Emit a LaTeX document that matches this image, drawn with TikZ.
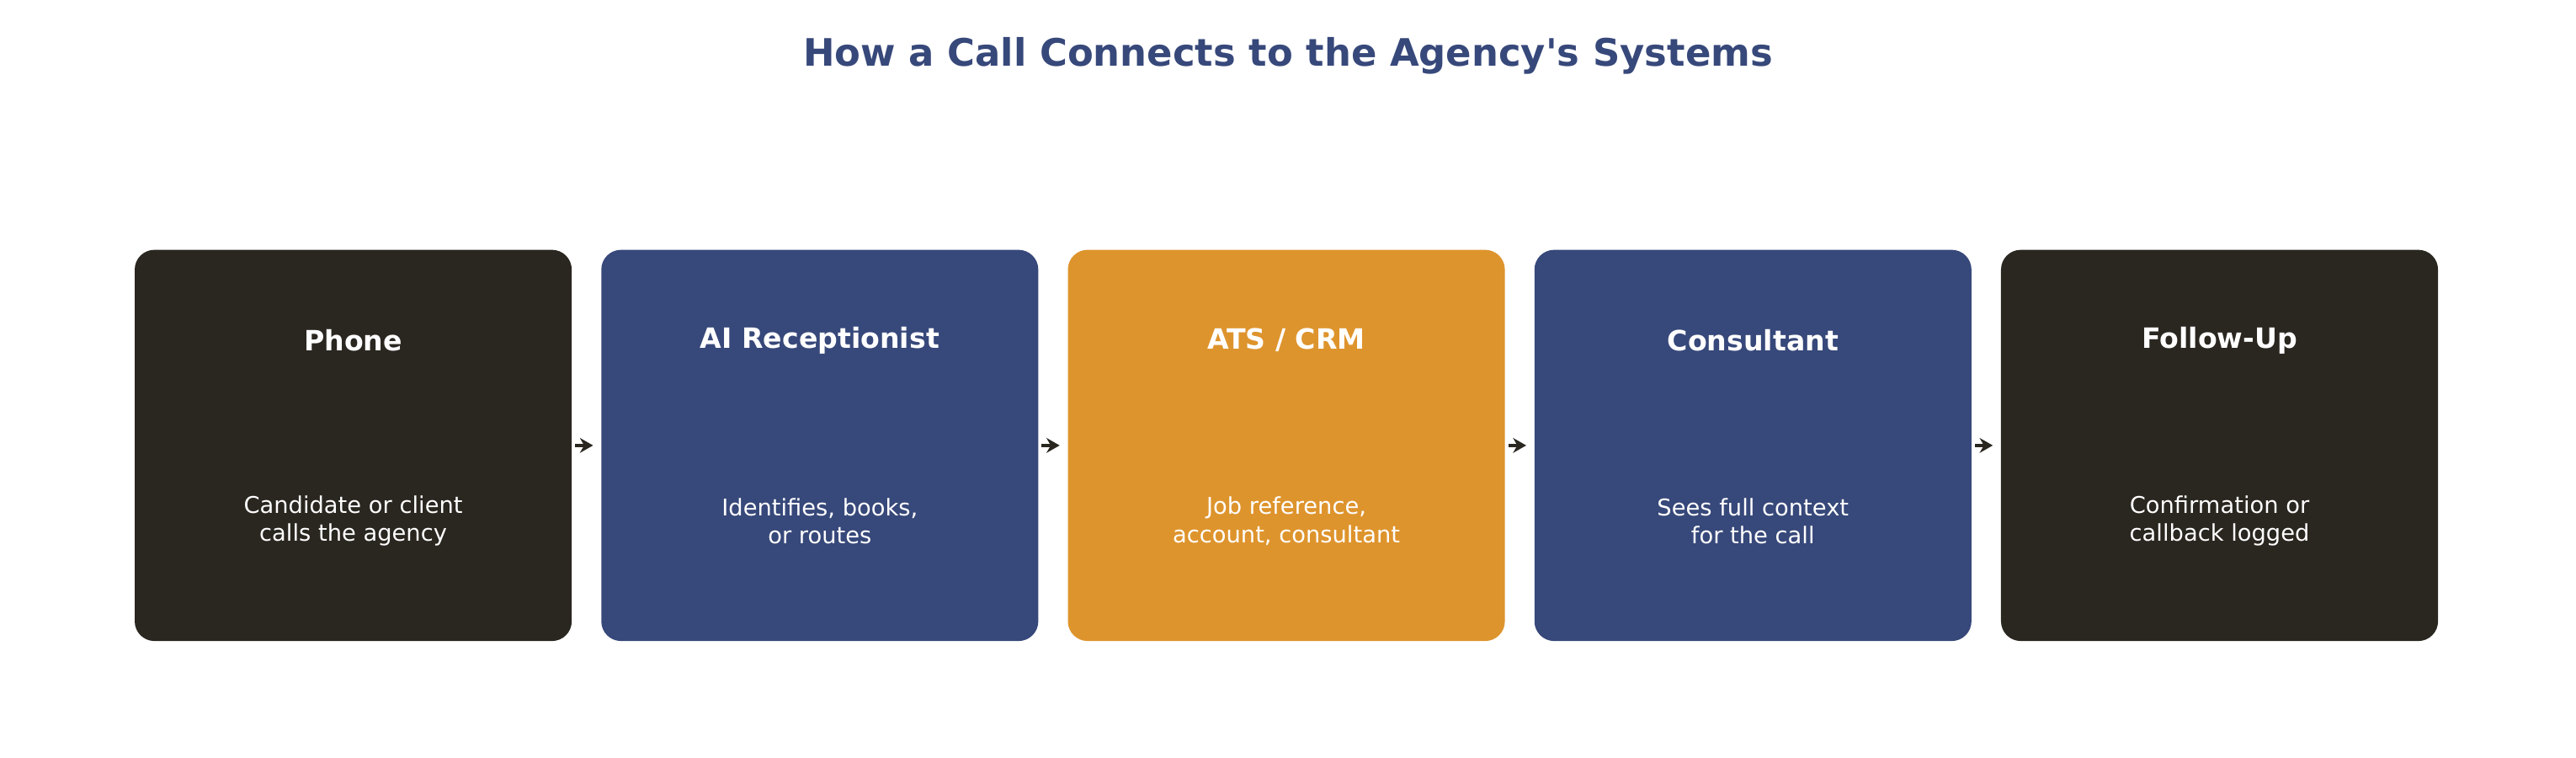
\documentclass[tikz,border=0pt]{standalone}
\usepackage{fontspec}
\setmainfont{DejaVu Sans}
\usetikzlibrary{positioning,arrows.meta}
\definecolor{darkbox}{HTML}{2A2620}
\definecolor{bluebox}{HTML}{37487A}
\definecolor{orangebox}{HTML}{DE942D}
\tikzset{every picture/.style={line width=0.75pt}}
\tikzset{
  stage/.style={rounded corners=6pt,minimum width=133pt,minimum height=119pt,inner sep=0pt,outer sep=0pt,draw=none},
  head/.style={text=white,font=\bfseries\fontsize{8.5}{10}\selectfont},
  body/.style={text=white,align=center,font=\fontsize{7}{8.6}\selectfont},
  link/.style={-{Stealth[length=4pt,width=4.5pt]},line width=1.2pt,draw=darkbox,shorten <=1pt,shorten >=2.5pt}
}
\begin{document}
\begin{tikzpicture}[x=0.5pt,y=0.5pt,yscale=-1,xscale=1]
\useasboundingbox (0,0) rectangle (1568,460.7);
% Title
\node (title) at (784,34) [text=bluebox,font=\bfseries\fontsize{11.5}{14}\selectfont] {How a Call Connects to the Agency\textquotesingle s Systems};
% Stages
\node (phone) at (215,271) [stage,fill=darkbox] {};
\node (recept) [stage,fill=bluebox,right=9pt of phone] {};
\node (ats) [stage,fill=orangebox,right=9pt of recept] {};
\node (consult) [stage,fill=bluebox,right=9pt of ats] {};
\node (follow) [stage,fill=darkbox,right=9pt of consult] {};
% Headings
\node (phone-head) [head] at ([yshift=27.5pt]phone.north) {Phone};
\node (recept-head) [head] at ([yshift=27.5pt]recept.north) {AI Receptionist};
\node (ats-head) [head] at ([yshift=27.5pt]ats.north) {ATS / CRM};
\node (consult-head) [head] at ([yshift=27.5pt]consult.north) {Consultant};
\node (follow-head) [head] at ([yshift=27.5pt]follow.north) {Follow-Up};
% Descriptions
\node (phone-body) [body] at ([yshift=23pt]phone.center) {Candidate or client\\calls the agency};
\node (recept-body) [body] at ([yshift=23pt]recept.center) {Identifies, books,\\or routes};
\node (ats-body) [body] at ([yshift=23pt]ats.center) {Job reference,\\account, consultant};
\node (consult-body) [body] at ([yshift=23pt]consult.center) {Sees full context\\for the call};
\node (follow-body) [body] at ([yshift=23pt]follow.center) {Confirmation or\\callback logged};
% Arrows
\draw [link] (phone) -- (recept);
\draw [link] (recept) -- (ats);
\draw [link] (ats) -- (consult);
\draw [link] (consult) -- (follow);
\end{tikzpicture}
\end{document}
